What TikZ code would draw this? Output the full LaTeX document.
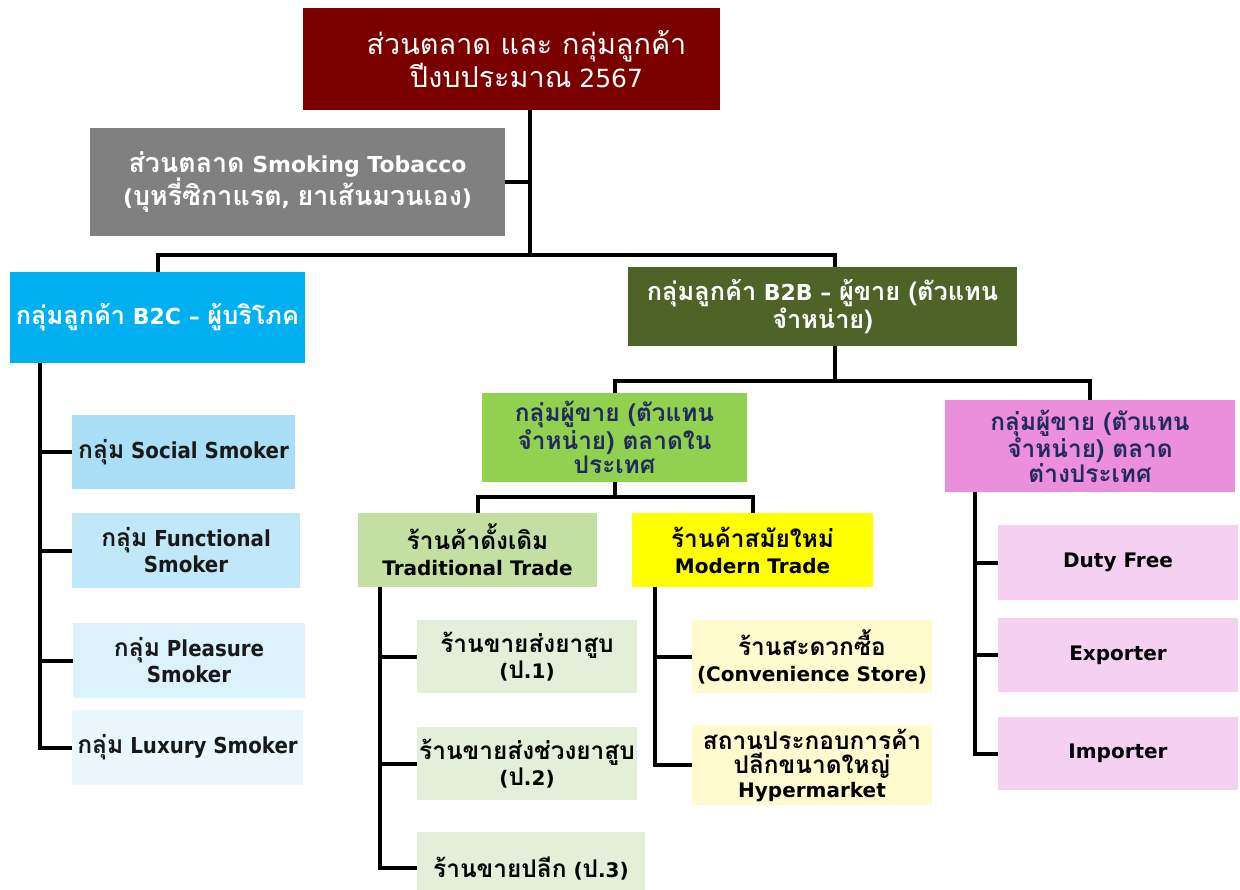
\documentclass[tikz,border=0pt]{standalone}
\usepackage{fontspec}
\setmainfont{DejaVu Sans}
\newfontfamily\condf{DejaVu Sans Condensed}
\newfontfamily\thaiS[Script=Thai,Scale=1.15]{Loma}
\newfontfamily\thaiL[Script=Thai,Scale=1.22]{Loma}
\newfontfamily\thaiC[Script=Thai,Scale=1.12]{Loma}
\let\thaicur\thaiS
\newcommand{\T}[1]{{\thaicur #1}}
\definecolor{cTitle}{HTML}{7A0000}
\definecolor{cGray}{HTML}{808080}
\definecolor{cCyan}{HTML}{00B0F0}
\definecolor{cOlive}{HTML}{4F6228}
\definecolor{cGreen}{HTML}{92D050}
\definecolor{cTrad}{HTML}{C3DFA2}
\definecolor{cYellow}{HTML}{FFFF00}
\definecolor{cPink}{HTML}{EB8EDC}
\definecolor{cPinkL}{HTML}{F6D0F0}
\definecolor{cGreenL}{HTML}{E3EFD9}
\definecolor{cYellowL}{HTML}{FFFBCF}
\definecolor{cB1}{HTML}{A9DEF6}
\definecolor{cB2}{HTML}{C0E8F9}
\definecolor{cB3}{HTML}{DCF2FC}
\definecolor{cB4}{HTML}{EAF7FD}
\definecolor{cNavy}{HTML}{1F2A5E}
\tikzset{
  box/.style={draw=none, inner sep=0pt, align=center},
  small/.style={box, font=\bfseries\fontsize{20}{26}\selectfont\let\thaicur\thaiL},
  smoker/.style={box, text=black!90, font=\condf\bfseries\fontsize{22}{26}\selectfont\let\thaicur\thaiC},
  conn/.style={draw=black, line width=4pt, line join=miter},
}
\begin{document}
\begin{tikzpicture}[x=1pt,y=-1pt]
\useasboundingbox (0,0) rectangle (1240,890);
\fill[white] (0,0) rectangle (1240,890);
\clip (0,0) rectangle (1240,890);

% coordinates
\coordinate (j1) at (530,255);
\coordinate (jb) at (835,255);
\coordinate (k) at (835,381);
\coordinate (m) at (614.5,497);
\coordinate (cA) at (40,0);
\coordinate (tA) at (380,0);
\coordinate (mA) at (655,0);
\coordinate (pA) at (975,0);

% nodes
\node[box, fill=cTitle, text=white, minimum width=417, minimum height=102, font=\fontsize{25}{30}\selectfont] (title) at (511.5,59)
  {\hspace*{30pt}\T{ส่วนตลาด และ กลุ่มลูกค้า}\\\hspace*{30pt}\T{ปีงบประมาณ} 2567};
\node[box, fill=cGray, text=white, minimum width=415, minimum height=108, font=\bfseries\fontsize{22}{32}\selectfont\let\thaicur\thaiL] (gray) at (297.5,182)
  {\T{ส่วนตลาด} Smoking Tobacco\\(\T{บุหรี่ซิกาแรต}, \T{ยาเส้นมวนเอง})};
\node[box, fill=cCyan, text=white, minimum width=295, minimum height=91, font=\bfseries\fontsize{22}{26}\selectfont] (b2c) at (157.5,317.5)
  {\T{กลุ่มลูกค้า} B2C -- \T{ผู้บริโภค}};
\node[box, fill=cOlive, text=white, minimum width=389, minimum height=79, font=\bfseries\fontsize{22}{26}\selectfont] (b2b) at (822.5,306.5)
  {\T{กลุ่มลูกค้า} B2B -- \T{ผู้ขาย (ตัวแทน}\\\T{จำหน่าย)}};

\node[smoker, fill=cB1, minimum width=223, minimum height=74] (soc) at (183.5,452)
  {\T{กลุ่ม} Social Smoker};
\node[smoker, fill=cB2, minimum width=228, minimum height=75] (fun) at (186,550.5)
  {\T{กลุ่ม} Functional\\Smoker};
\node[smoker, fill=cB3, minimum width=232, minimum height=75] (ple) at (189,660.5)
  {\T{กลุ่ม} Pleasure\\Smoker};
\node[smoker, fill=cB4, minimum width=231, minimum height=75] (lux) at (187.5,747.5)
  {\T{กลุ่ม} Luxury Smoker};

\node[box, fill=cGreen, text=cNavy, minimum width=265, minimum height=89, font=\bfseries\fontsize{20}{24.5}\selectfont\let\thaicur\thaiL] (dom) at (614.5,437.5)
  {\T{กลุ่มผู้ขาย (ตัวแทน}\\\T{จำหน่าย) ตลาดใน}\\\T{ประเทศ}};
\node[box, fill=cPink, text=cNavy, minimum width=290, minimum height=92, font=\bfseries\fontsize{20}{24.5}\selectfont\let\thaicur\thaiL] (abr) at (1090,446)
  {\T{กลุ่มผู้ขาย (ตัวแทน}\\\T{จำหน่าย) ตลาด}\\\T{ต่างประเทศ}};

\node[small, fill=cTrad, minimum width=239, minimum height=74] (trad) at (477.5,550)
  {\T{ร้านค้าดั้งเดิม}\\Traditional Trade};
\node[small, fill=cYellow, minimum width=241, minimum height=74] (mod) at (752.5,550)
  {\T{ร้านค้าสมัยใหม่}\\Modern Trade};

\node[small, fill=cGreenL, minimum width=220, minimum height=73] (p1) at (527,656.5)
  {\T{ร้านขายส่งยาสูบ}\\(\T{ป}.1)};
\node[small, fill=cGreenL, minimum width=220, minimum height=73] (p2) at (527,763.5)
  {\T{ร้านขายส่งช่วงยาสูบ}\\(\T{ป}.2)};
\node[small, fill=cGreenL, minimum width=228, minimum height=72] (p3) at (531,868)
  {\T{ร้านขายปลีก} (\T{ป}.3)};

\node[small, fill=cYellowL, minimum width=240, minimum height=73] (conv) at (812,656.5)
  {\T{ร้านสะดวกซื้อ}\\(Convenience Store)};
\node[small, fill=cYellowL, minimum width=240, minimum height=80, font=\bfseries\fontsize{20}{24}\selectfont\let\thaicur\thaiL] (hyp) at (812,765)
  {\T{สถานประกอบการค้า}\\\T{ปลีกขนาดใหญ่}\\Hypermarket};

\node[small, fill=cPinkL, minimum width=240, minimum height=75] (duty) at (1118,562.5) {Duty Free};
\node[small, fill=cPinkL, minimum width=240, minimum height=74] (exp) at (1118,655) {Exporter};
\node[small, fill=cPinkL, minimum width=240, minimum height=73] (imp) at (1118,753.5) {Importer};

% connectors
\draw[conn] (title.south -| j1) -- (j1);
\draw[conn] (gray.east) -- (gray.east -| j1);
\draw[conn] (b2c.north) |- (j1) -- (jb) -- (b2b.north -| jb);
\draw[conn] (b2b.south -| k) -- (k);
\draw[conn] (dom.north) |- (k) -| (abr.north);
\draw[conn] (dom.south) -- (m);
\draw[conn] (trad.north) |- (m) -| (mod.north);

\draw[conn] (b2c.south -| cA) |- (lux.west);
\draw[conn] (soc.west -| cA) -- (soc.west);
\draw[conn] (fun.west -| cA) -- (fun.west);
\draw[conn] (ple.west -| cA) -- (ple.west);

\draw[conn] (trad.south -| tA) |- (p3.west);
\draw[conn] (p1.west -| tA) -- (p1.west);
\draw[conn] (p2.west -| tA) -- (p2.west);

\draw[conn] (mod.south -| mA) |- (hyp.west);
\draw[conn] (conv.west -| mA) -- (conv.west);

\draw[conn] (abr.south -| pA) |- (imp.west);
\draw[conn] (duty.west -| pA) -- (duty.west);
\draw[conn] (exp.west -| pA) -- (exp.west);
\end{tikzpicture}
\end{document}
